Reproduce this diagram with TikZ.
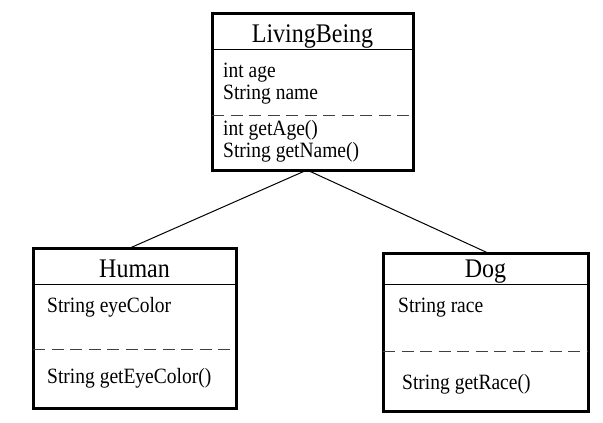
\documentclass[tikz,border=0pt]{standalone}
\usepackage{fontspec}
\usepackage{graphicx}
\setmainfont{Liberation Serif}
\newcommand{\vstretch}[1]{\scalebox{1}[1.12]{#1}}
\begin{document}
\begin{tikzpicture}[x=1pt,y=-1pt,
  classbox/.style={draw, line width=3pt, inner sep=0pt, outer sep=0pt},
  sepline/.style={line width=1pt},
  dashline/.style={line width=1pt, black!75, dash pattern=on 12pt off 6.5pt},
  titletext/.style={anchor=base, inner sep=0pt, font=\fontsize{24}{28}\selectfont},
  bodytext/.style={anchor=base west, inner sep=0pt, font=\fontsize{19.5}{23}\selectfont},
  link/.style={line width=1pt}]
\useasboundingbox (0,0) rectangle (603,423);
% LivingBeing
\node[classbox, minimum width=201pt, minimum height=157pt] (lb) at (312.5,91.5) {};
\draw[sepline] (lb.west |- 0,49) coordinate (lbs1) -- (lb.east |- 0,49) coordinate (lbs2);
\draw[dashline] (lb.west |- 0,115) coordinate (lbd1) -- (lb.east |- 0,115) coordinate (lbd2);
\node[titletext] (lbt) at (312.5,42) {\vstretch{LivingBeing}};
\node[bodytext] (lba1) at (223,77) {\vstretch{int age}};
\node[bodytext] (lba2) at (223,99) {\vstretch{String name}};
\node[bodytext] (lbm1) at (223,135) {\vstretch{int getAge()}};
\node[bodytext] (lbm2) at (223,157) {\vstretch{String getName()}};
% Human
\node[classbox, minimum width=203pt, minimum height=160pt] (hu) at (134.5,328) {};
\draw[sepline] (hu.west |- 0,284) coordinate (hus1) -- (hu.east |- 0,284) coordinate (hus2);
\draw[dashline] (hu.west |- 0,349) coordinate (hud1) -- (hu.east |- 0,349) coordinate (hud2);
\node[titletext] (hut) at (134.5,277) {\vstretch{Human}};
\node[bodytext] (hua1) at (47,312) {\vstretch{String eyeColor}};
\node[bodytext] (hum1) at (47,383) {\vstretch{String getEyeColor()}};
% Dog
\node[classbox, minimum width=205pt, minimum height=158pt] (dg) at (485.5,332) {};
\draw[sepline] (dg.west |- 0,284) coordinate (dgs1) -- (dg.east |- 0,284) coordinate (dgs2);
\draw[dashline] (dg.west |- 0,351) coordinate (dgd1) -- (dg.east |- 0,351) coordinate (dgd2);
\node[titletext] (dgt) at (485.5,277) {\vstretch{Dog}};
\node[bodytext] (dga1) at (398,312) {\vstretch{String race}};
\node[bodytext] (dgm1) at (402,389) {\vstretch{String getRace()}};
% connectors
\draw[link] ([xshift=-5.5pt]lb.south) -- ([xshift=-4.5pt]hu.north);
\draw[link] ([xshift=-5.5pt]lb.south) -- ([xshift=2.5pt]dg.north);
\end{tikzpicture}
\end{document}
